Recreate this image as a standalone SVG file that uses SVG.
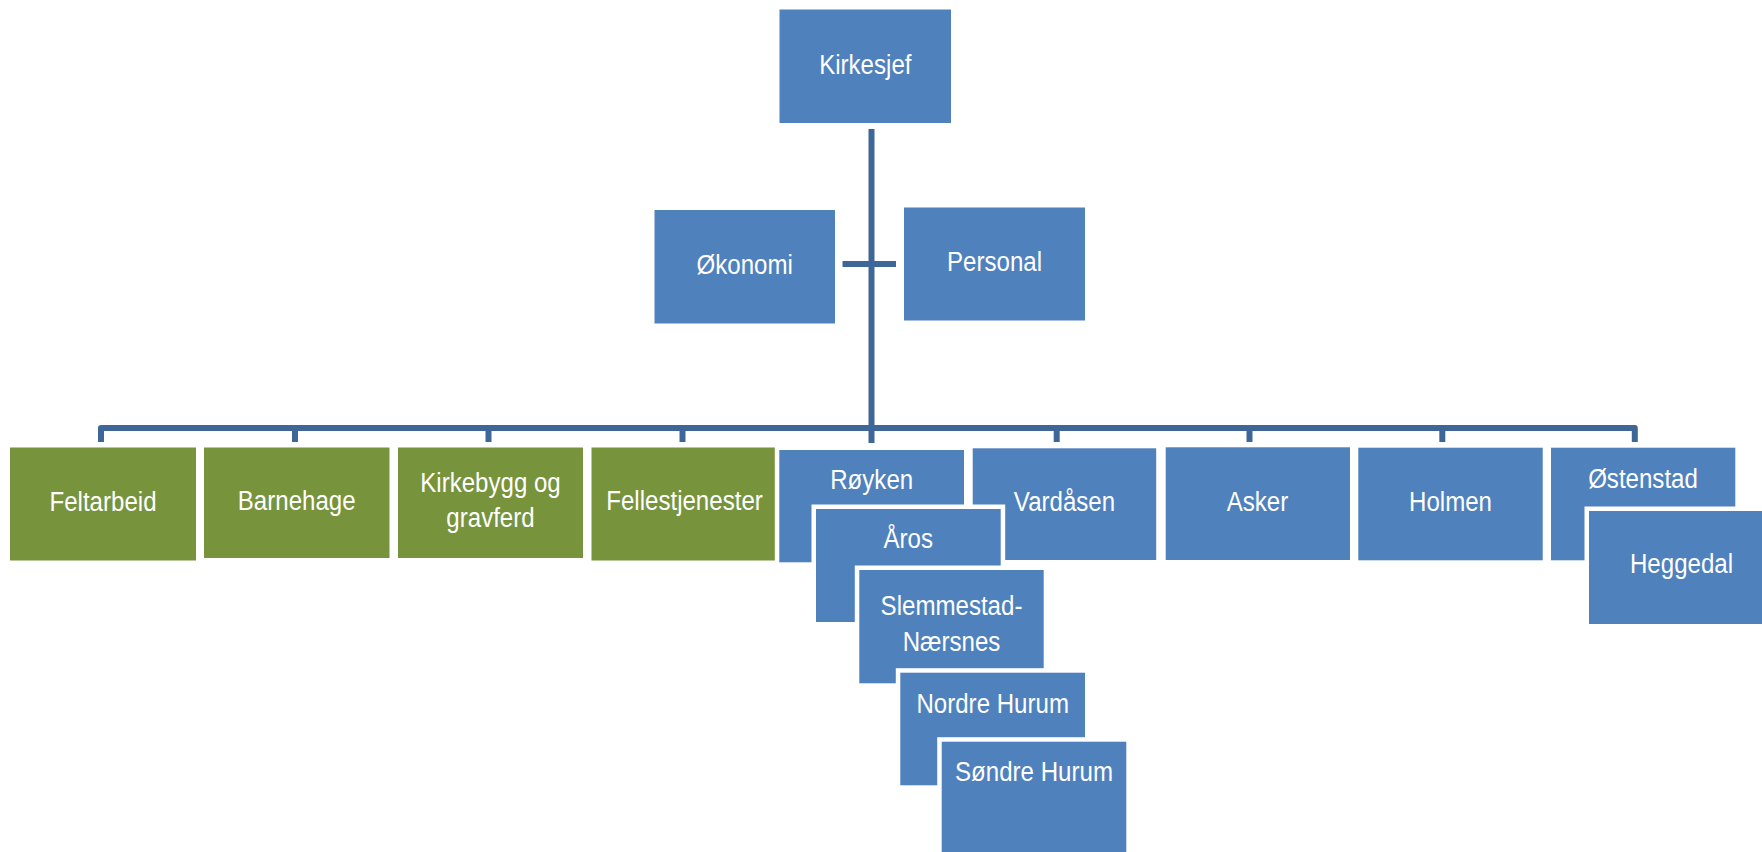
<svg xmlns="http://www.w3.org/2000/svg" width="1762" height="852" viewBox="0 0 1762 852">
<style>
.b{fill:#4F81BD;stroke:#fff;stroke-width:9;paint-order:stroke}
.g{fill:#77933C;stroke:#fff;stroke-width:9;paint-order:stroke}
.t{font-family:"Liberation Sans",Arial,sans-serif;font-size:28px;fill:#fff;text-anchor:middle}
.c{fill:none;stroke:#3F6698;stroke-width:6}
</style>
<rect width="1762" height="852" fill="#fff"/>
<g id="connectors">
<line class="c" x1="871.5" y1="129" x2="871.5" y2="443"/>
<line class="c" x1="842.5" y1="264" x2="896" y2="264" stroke-width="5.5"/>
<path class="c" d="M101 442V428H1634.8V442" stroke-linejoin="round"/>
<line class="c" x1="295" y1="428" x2="295" y2="442"/>
<line class="c" x1="488.5" y1="428" x2="488.5" y2="442"/>
<line class="c" x1="682.5" y1="428" x2="682.5" y2="442"/>
<line class="c" x1="1056.7" y1="428" x2="1056.7" y2="442"/>
<line class="c" x1="1249.5" y1="428" x2="1249.5" y2="442"/>
<line class="c" x1="1442.3" y1="428" x2="1442.3" y2="442"/>
</g>
<g id="kirkesjef"><rect class="b" x="779.5" y="9.5" width="171.5" height="113.5"/><text class="t" transform="translate(865.3,73.5) scale(0.86,1)">Kirkesjef</text></g>
<g id="okonomi"><rect class="b" x="654.5" y="210" width="180.5" height="113.5"/><text class="t" transform="translate(744.7,274) scale(0.86,1)">Økonomi</text></g>
<g id="personal"><rect class="b" x="904" y="207.5" width="181" height="113"/><text class="t" transform="translate(994.5,271) scale(0.86,1)">Personal</text></g>
<g id="feltarbeid"><rect class="g" x="10" y="447.5" width="186" height="113"/><text class="t" transform="translate(103,511) scale(0.86,1)">Feltarbeid</text></g>
<g id="barnehage"><rect class="g" x="204" y="447.5" width="185.5" height="110.5"/><text class="t" transform="translate(296.7,509.5) scale(0.86,1)">Barnehage</text></g>
<g id="kirkebygg"><rect class="g" x="398" y="447.5" width="185" height="110.5"/><text class="t" transform="translate(490.5,491.7) scale(0.86,1)">Kirkebygg og<tspan x="0" dy="35">gravferd</tspan></text></g>
<g id="fellestjenester"><rect class="g" x="591.5" y="447.5" width="186" height="113"/><text class="t" transform="translate(684.5,510) scale(0.86,1)">Fellestjenester</text></g>
<g id="vardasen"><rect class="b" x="972.7" y="448.3" width="183.5" height="111.7"/><text class="t" transform="translate(1064.5,511) scale(0.86,1)">Vardåsen</text></g>
<g id="royken"><rect class="b" x="779.3" y="450" width="184.7" height="112.3"/><text class="t" transform="translate(871.7,489.3) scale(0.86,1)">Røyken</text></g>
<g id="aros"><rect class="b" x="816" y="509" width="184.7" height="113"/><text class="t" transform="translate(908.3,548.3) scale(0.86,1)">Åros</text></g>
<g id="slemmestad"><rect class="b" x="859.3" y="570" width="184.4" height="113.3"/><text class="t" transform="translate(951.5,615) scale(0.86,1)">Slemmestad-<tspan x="0" dy="35.7">Nærsnes</tspan></text></g>
<g id="nordre-hurum"><rect class="b" x="900.3" y="672.7" width="184.7" height="112.6"/><text class="t" transform="translate(992.7,713.3) scale(0.86,1)">Nordre Hurum</text></g>
<g id="sondre-hurum"><rect class="b" x="941.7" y="741.7" width="184.6" height="113"/><text class="t" transform="translate(1034,780.7) scale(0.86,1)">Søndre Hurum</text></g>
<g id="asker"><rect class="b" x="1165.7" y="447.3" width="184.3" height="112.7"/><text class="t" transform="translate(1257.5,511) scale(0.86,1)">Asker</text></g>
<g id="holmen"><rect class="b" x="1358.3" y="447.7" width="184.4" height="112.6"/><text class="t" transform="translate(1450.5,510.7) scale(0.86,1)">Holmen</text></g>
<g id="ostenstad"><rect class="b" x="1551" y="447.7" width="184.3" height="112.6"/><text class="t" transform="translate(1643,487.7) scale(0.86,1)">Østenstad</text></g>
<g id="heggedal"><rect class="b" x="1589" y="511" width="184.7" height="113"/><text class="t" transform="translate(1681.5,572.7) scale(0.86,1)">Heggedal</text></g>
</svg>
